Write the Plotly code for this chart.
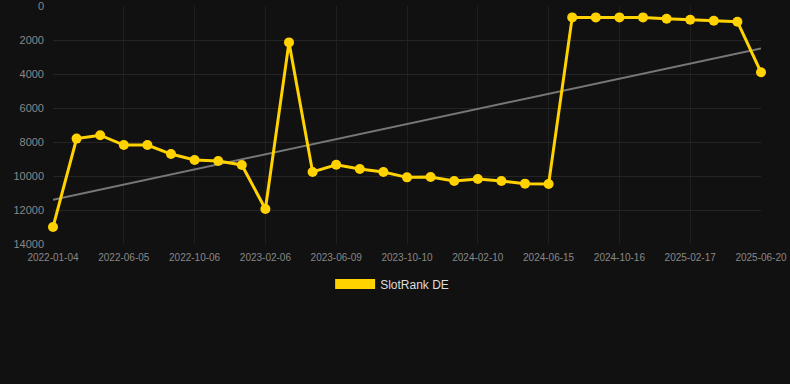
import numpy as np
import plotly.graph_objects as go

dates = [
    "2022-01-04", "2022-02-24", "2022-04-15", "2022-06-05", "2022-07-16", "2022-08-26",
    "2022-10-06", "2022-11-16", "2022-12-27", "2023-02-06", "2023-03-19", "2023-04-29",
    "2023-06-09", "2023-07-20", "2023-08-30", "2023-10-10", "2023-11-20", "2023-12-31",
    "2024-02-10", "2024-03-22", "2024-05-04", "2024-06-15", "2024-07-26", "2024-09-05",
    "2024-10-16", "2024-11-26", "2025-01-07", "2025-02-17", "2025-03-30", "2025-05-10",
    "2025-06-20",
]
ranks = [
    13000, 7800, 7600, 8180, 8180, 8710, 9060, 9120, 9350, 11940, 2140, 9760,
    9340, 9590, 9760, 10080, 10060, 10290, 10180, 10290, 10450, 10470, 670, 670,
    670, 670, 750, 805, 865, 925, 3900,
]
tick_labels = dates[::3]
y_ticks = [0, 2000, 4000, 6000, 8000, 10000, 12000, 14000]
y_tick_text = [str(v) for v in y_ticks]

idx = np.arange(len(ranks))
slope, intercept = np.polyfit(idx, ranks, 1)
trend = slope * idx + intercept

gold = "#FFD200"
fig = go.Figure()
fig.add_trace(go.Scatter(
    x=dates, y=trend, mode="lines", line=dict(color="#777777", width=2),
    showlegend=False, hoverinfo="skip", cliponaxis=False,
))
fig.add_trace(go.Scatter(
    x=dates, y=ranks, mode="lines+markers", name="SlotRank DE",
    line=dict(color=gold, width=3), marker=dict(color=gold, size=10),
    showlegend=False, cliponaxis=False,
))
fig.add_trace(go.Scatter(
    x=[None], y=[None], mode="lines", name="SlotRank DE",
    line=dict(color=gold, width=10), showlegend=True,
))

fig.update_layout(
    width=790, height=384,
    paper_bgcolor="#111111", plot_bgcolor="#111111",
    margin=dict(l=53, r=29, t=6, b=140),
    font=dict(family="Liberation Sans, Arial, sans-serif", color="#888888", size=11),
    xaxis=dict(
        type="category", categoryorder="array", categoryarray=dates,
        range=[0, len(dates) - 1], automargin=False,
        tickmode="array", tickvals=tick_labels, ticktext=tick_labels,
        tickfont=dict(size=10, color="#888888"),
        showgrid=True, gridcolor="#1f1f1f", gridwidth=1,
        zeroline=False, showline=False, ticks="", ticklabelstandoff=6,
        ticklabeloverflow="allow",
    ),
    yaxis=dict(
        range=[14000, 0], tickmode="array", tickvals=y_ticks, ticktext=y_tick_text,
        tickfont=dict(size=11, color="#888888"), automargin=False,
        showgrid=True, gridcolor="#252525", gridwidth=1,
        zeroline=False, showline=False, ticks="", ticklabelstandoff=8,
        ticklabeloverflow="allow",
    ),
    legend=dict(
        orientation="h", x=0.479, xanchor="center", y=-0.107, yanchor="top",
        font=dict(size=12, color="#dddddd"), itemwidth=40,
    ),
)

fig.write_html(
    "out.html",
    config={"displayModeBar": False},
    post_script="document.body.style.margin='0';document.body.style.background='#111111';",
)
